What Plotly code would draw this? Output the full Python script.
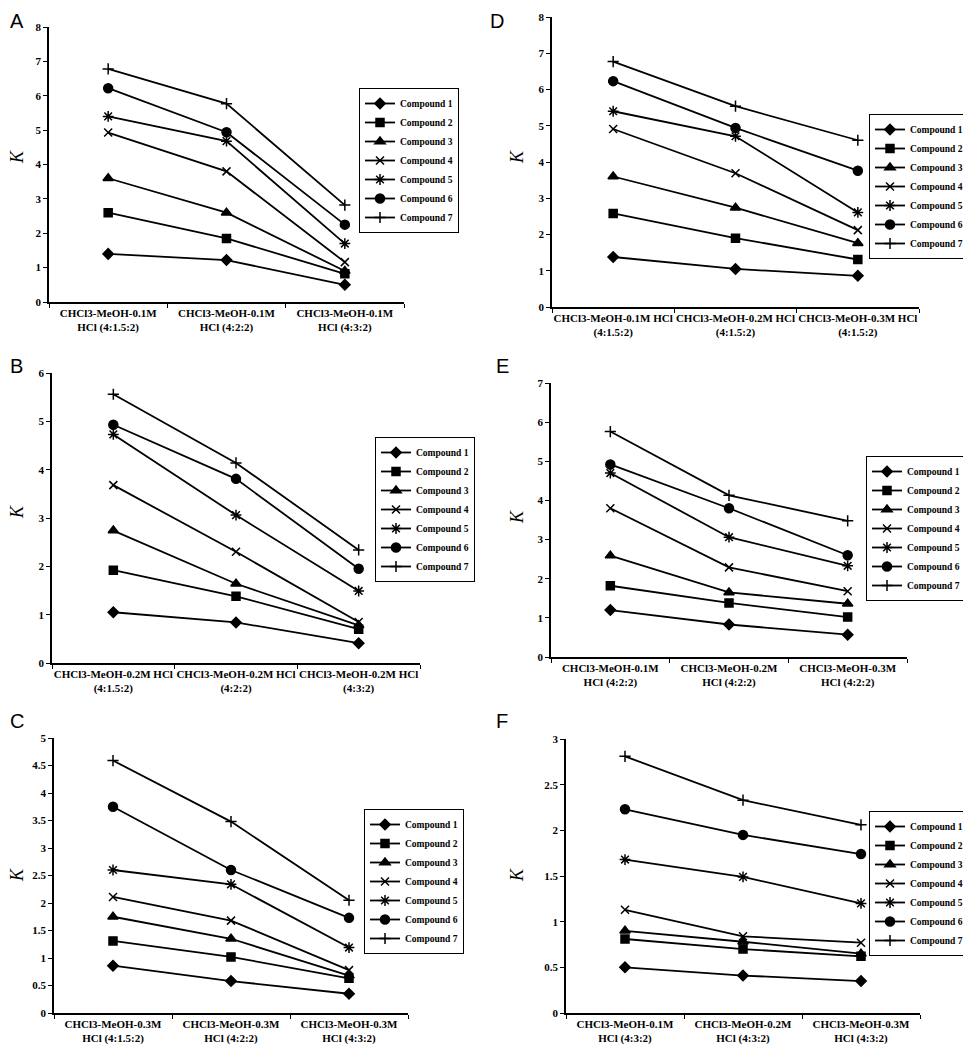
import plotly.graph_objects as go

# page body has an 8px margin; figure sized so it fits exactly in the window
OFF = 8
W, H = 971 - OFF, 1050 - OFF

compounds = ["Compound 1", "Compound 2", "Compound 3", "Compound 4",
             "Compound 5", "Compound 6", "Compound 7"]

cats_A = ["CHCl3-MeOH-0.1M<br>HCl (4:1.5:2)", "CHCl3-MeOH-0.1M<br>HCl (4:2:2)", "CHCl3-MeOH-0.1M<br>HCl (4:3:2)"]
cats_B = ["CHCl3-MeOH-0.2M HCl<br>(4:1.5:2)", "CHCl3-MeOH-0.2M HCl<br>(4:2:2)", "CHCl3-MeOH-0.2M HCl<br>(4:3:2)"]
cats_C = ["CHCl3-MeOH-0.3M<br>HCl (4:1.5:2)", "CHCl3-MeOH-0.3M<br>HCl (4:2:2)", "CHCl3-MeOH-0.3M<br>HCl (4:3:2)"]
cats_D = ["CHCl3-MeOH-0.1M HCl<br>(4:1.5:2)", "CHCl3-MeOH-0.2M HCl<br>(4:1.5:2)", "CHCl3-MeOH-0.3M HCl<br>(4:1.5:2)"]
cats_E = ["CHCl3-MeOH-0.1M<br>HCl (4:2:2)", "CHCl3-MeOH-0.2M<br>HCl (4:2:2)", "CHCl3-MeOH-0.3M<br>HCl (4:2:2)"]
cats_F = ["CHCl3-MeOH-0.1M<br>HCl (4:3:2)", "CHCl3-MeOH-0.2M<br>HCl (4:3:2)", "CHCl3-MeOH-0.3M<br>HCl (4:3:2)"]

K_A = [[1.40, 1.22, 0.50], [2.60, 1.85, 0.82], [3.60, 2.60, 0.90], [4.93, 3.80, 1.16],
       [5.40, 4.68, 1.70], [6.22, 4.94, 2.25], [6.78, 5.77, 2.82]]
K_B = [[1.05, 0.84, 0.41], [1.92, 1.38, 0.70], [2.74, 1.64, 0.78], [3.68, 2.30, 0.85],
       [4.73, 3.06, 1.49], [4.93, 3.81, 1.95], [5.56, 4.14, 2.34]]
K_C = [[0.86, 0.58, 0.35], [1.31, 1.02, 0.63], [1.75, 1.35, 0.68], [2.11, 1.68, 0.78],
       [2.60, 2.34, 1.19], [3.75, 2.60, 1.73], [4.59, 3.48, 2.05]]
K_D = [[1.38, 1.05, 0.86], [2.58, 1.90, 1.31], [3.60, 2.74, 1.76], [4.91, 3.69, 2.12],
       [5.40, 4.71, 2.61], [6.23, 4.94, 3.76], [6.77, 5.54, 4.60]]
K_E = [[1.20, 0.83, 0.57], [1.82, 1.38, 1.02], [2.59, 1.65, 1.36], [3.80, 2.29, 1.68],
       [4.70, 3.06, 2.33], [4.92, 3.80, 2.60], [5.76, 4.13, 3.48]]
K_F = [[0.50, 0.41, 0.35], [0.81, 0.70, 0.62], [0.90, 0.78, 0.65], [1.13, 0.84, 0.77],
       [1.68, 1.49, 1.20], [2.23, 1.95, 1.74], [2.81, 2.33, 2.06]]

ymax = {"A": 8, "B": 6, "C": 5, "D": 8, "E": 7, "F": 3}
ydtick = {"A": 1, "B": 1, "C": 0.5, "D": 1, "E": 1, "F": 0.5}

symbols = ["diamond", "square", "triangle-up", "x-thin", "asterisk-open", "circle", "cross-thin"]
sizes = [8, 8, 9, 8, 9, 9, 8]

# layout boxes in window pixels: (x0, x1, ytop, ybottom)
boxes = {"A": (49, 404, 27, 302), "D": (552, 919, 17, 307),
         "B": (52, 420, 373, 663), "E": (551, 907, 383, 657),
         "C": (54, 408, 738, 1013), "F": (566, 920, 739, 1013)}
# legend: (x, anchor, ytop)
legend_pos = {"A": (359, "left", 88), "D": (969, "right", 114), "B": (375, "left", 437),
              "E": (966, "right", 456), "C": (364, "left", 809), "F": (969, "right", 811)}
letter_pos = {"A": (8, 8), "D": (488, 8), "B": (8, 353), "E": (494, 353),
              "C": (8, 708), "F": (494, 708)}
klabel_pos = {"A": (17, 157), "D": (517, 157), "B": (17, 512),
              "E": (517, 517), "C": (17, 875), "F": (517, 875)}

panels = [("A", cats_A, K_A), ("B", cats_B, K_B), ("C", cats_C, K_C),
          ("D", cats_D, K_D), ("E", cats_E, K_E), ("F", cats_F, K_F)]

serif = "Liberation Serif, Times New Roman, serif"
fig = go.Figure()
layout = dict(width=W, height=H, margin=dict(l=0, r=0, t=0, b=0, autoexpand=False),
              paper_bgcolor="white", plot_bgcolor="white", showlegend=True)
annotations = []


def fx(px):
    return (px - OFF) / W


def fy(py):
    return 1 - (py - OFF) / H


for i, (name, cats, data) in enumerate(panels):
    n = i + 1
    xa = "x" if n == 1 else f"x{n}"
    ya = "y" if n == 1 else f"y{n}"
    lg = "legend" if n == 1 else f"legend{n}"
    for j, comp in enumerate(compounds):
        fig.add_trace(go.Scatter(
            x=cats, y=data[j], name=comp, mode="lines+markers",
            xaxis=xa, yaxis=ya, legend=lg,
            line=dict(color="black", width=1.8),
            marker=dict(symbol=symbols[j], size=sizes[j], color="black",
                        line=dict(color="black", width=1.5)),
        ))
    x0, x1, yt, yb = boxes[name]
    xkey = "xaxis" if n == 1 else f"xaxis{n}"
    ykey = "yaxis" if n == 1 else f"yaxis{n}"
    layout[xkey] = dict(domain=[fx(x0), fx(x1)], anchor=ya, type="category",
                        range=[-0.5, 2.5], tickson="boundaries", ticks="outside",
                        ticklen=4, tickcolor="black", showline=True, linecolor="black",
                        linewidth=1.5, showgrid=False, zeroline=False, tickangle=0,
                        tickfont=dict(family=serif, size=11, color="black", weight="bold"))
    layout[ykey] = dict(domain=[fy(yb), fy(yt)], anchor=xa, range=[0, ymax[name]],
                        dtick=ydtick[name], tick0=0, ticks="outside", ticklen=4,
                        tickcolor="black", showline=True, linecolor="black", linewidth=1.5,
                        showgrid=False, zeroline=False,
                        tickfont=dict(family=serif, size=11, color="black", weight="bold"))
    lx, anc, ly = legend_pos[name]
    layout[lg] = dict(x=fx(lx), y=fy(ly), xanchor=anc, yanchor="top",
                      bordercolor="black", borderwidth=1,
                      bgcolor="white" if anc == "left" else "rgba(255,255,255,0)",
                      tracegroupgap=0,
                      font=dict(family=serif, size=9.5, color="black", weight="bold"))
    px_, py_ = letter_pos[name]
    annotations.append(dict(text=name, x=fx(px_), y=fy(py_), xref="paper", yref="paper",
                            xanchor="left", yanchor="top", showarrow=False,
                            font=dict(family="Liberation Sans, Arial, sans-serif", size=20, color="black")))
    kx, ky = klabel_pos[name]
    annotations.append(dict(text="<i>K</i>", x=fx(kx), y=fy(ky), xref="paper", yref="paper",
                            xanchor="center", yanchor="middle", showarrow=False, textangle=-90,
                            font=dict(family=serif, size=18, color="black")))

layout["annotations"] = annotations
fig.update_layout(**layout)
fig.write_html("out.html")
